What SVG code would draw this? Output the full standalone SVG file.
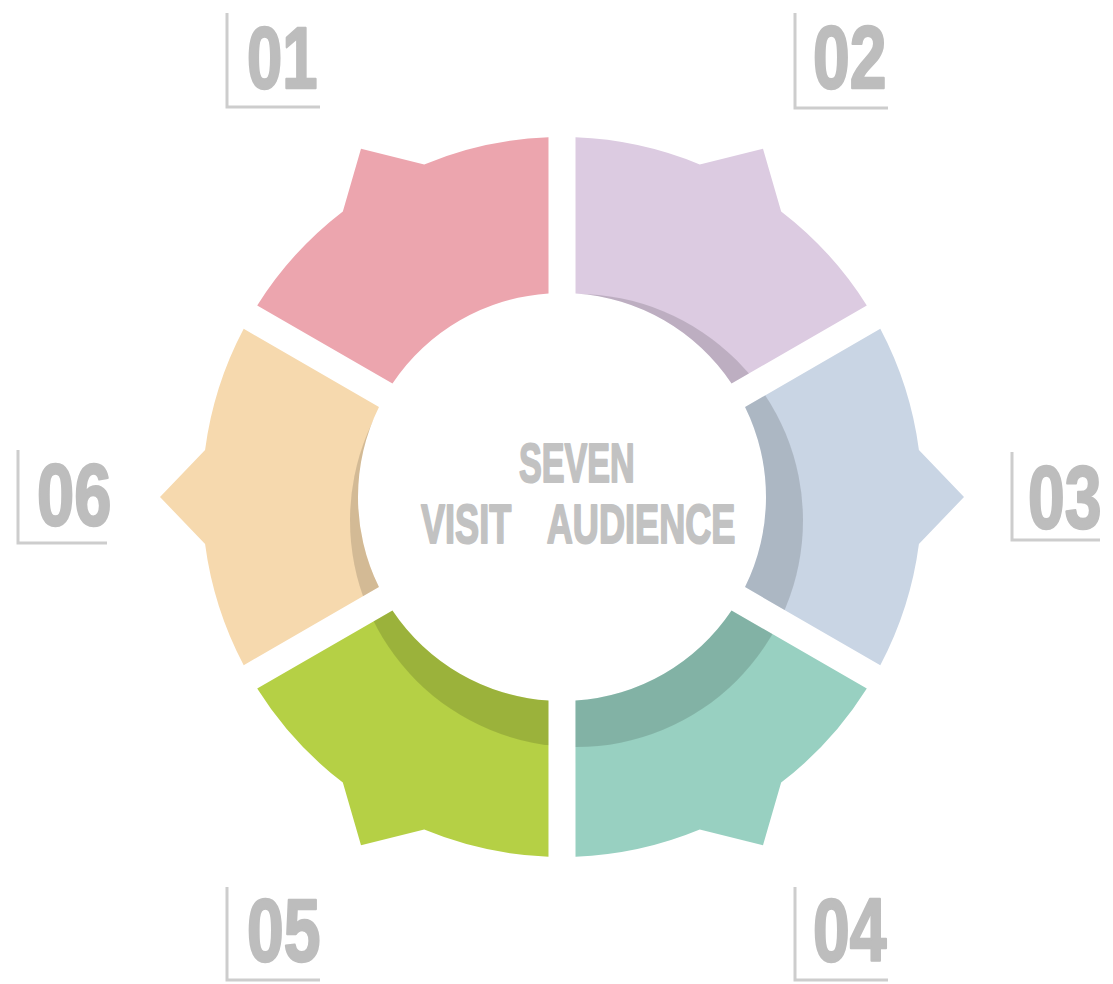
<svg xmlns="http://www.w3.org/2000/svg" xmlns:xlink="http://www.w3.org/1999/xlink" width="1113" height="984" viewBox="0 0 1113 984">
  <style>
    .lbl { font-family: "Liberation Sans", Arial, sans-serif; font-weight: bold; font-size: 88px; fill: #bdbdbd; stroke: #bdbdbd; stroke-width: 2.5; stroke-linejoin: round; }
    .ctr { font-family: "Liberation Sans", Arial, sans-serif; font-weight: bold; font-size: 56px; fill: #c2c2c2; stroke: #c2c2c2; stroke-width: 2; stroke-linejoin: round; }
    .brk { fill: none; stroke: #cdcdcd; stroke-width: 3; }
    .shd { fill: #000; fill-opacity: 0.14; }
  </style>
  <defs>
    <path id="segShape" d="M548.49 137.25 A360 360 0 0 0 424.23 164.40 L361 148.86 L342.85 211.39 A360 360 0 0 0 257.20 305.43 L392.48 383.51 A204 204 0 0 1 548.52 293.45 Z"/>
    <clipPath id="c01"><use xlink:href="#segShape"/></clipPath>
    <clipPath id="c02"><use xlink:href="#segShape" transform="rotate(60 562 497)"/></clipPath>
    <clipPath id="c03"><use xlink:href="#segShape" transform="rotate(120 562 497)"/></clipPath>
    <clipPath id="c04"><use xlink:href="#segShape" transform="rotate(180 562 497)"/></clipPath>
    <clipPath id="c05"><use xlink:href="#segShape" transform="rotate(240 562 497)"/></clipPath>
    <clipPath id="c06"><use xlink:href="#segShape" transform="rotate(300 562 497)"/></clipPath>
  </defs>
  <rect width="1113" height="984" fill="#ffffff"/>

  <g id="seg01">
    <use xlink:href="#segShape" fill="#eca5ae"/>
    <circle class="shd" cx="576.5" cy="520.5" r="226.5" clip-path="url(#c01)"/>
  </g>
  <g id="seg02">
    <use xlink:href="#segShape" transform="rotate(60 562 497)" fill="#dccbe1"/>
    <circle class="shd" cx="576.5" cy="520.5" r="226.5" clip-path="url(#c02)"/>
  </g>
  <g id="seg03">
    <use xlink:href="#segShape" transform="rotate(120 562 497)" fill="#c9d5e4"/>
    <circle class="shd" cx="576.5" cy="520.5" r="226.5" clip-path="url(#c03)"/>
  </g>
  <g id="seg04">
    <use xlink:href="#segShape" transform="rotate(180 562 497)" fill="#98d0c1"/>
    <circle class="shd" cx="576.5" cy="520.5" r="226.5" clip-path="url(#c04)"/>
  </g>
  <g id="seg05">
    <use xlink:href="#segShape" transform="rotate(240 562 497)" fill="#b5d045"/>
    <circle class="shd" cx="576.5" cy="520.5" r="226.5" clip-path="url(#c05)"/>
  </g>
  <g id="seg06">
    <use xlink:href="#segShape" transform="rotate(300 562 497)" fill="#f6d9ae"/>
    <circle class="shd" cx="576.5" cy="520.5" r="226.5" clip-path="url(#c06)"/>
  </g>

  <g id="center">
    <text class="ctr" transform="matrix(0.61 0 0 1 519 482)" x="0" y="0">SEVEN</text>
    <text class="ctr" transform="matrix(0.645 0 0 1 421 543)" y="0"><tspan x="0">VISIT</tspan> <tspan x="195">AUDIENCE</tspan></text>
  </g>

  <g id="label01">
    <path class="brk" d="M227 13 V107 H320"/>
    <text class="lbl" transform="matrix(0.72 0 0 1 247 88)">01</text>
  </g>
  <g id="label02">
    <path class="brk" d="M795 13 V108 H888"/>
    <text class="lbl" transform="matrix(0.75 0 0 1 813 88)">02</text>
  </g>
  <g id="label03">
    <path class="brk" d="M1012 452 V540 H1100"/>
    <text class="lbl" transform="matrix(0.75 0 0 1 1028 528)">03</text>
  </g>
  <g id="label04">
    <path class="brk" d="M795 887 V980 H888"/>
    <text class="lbl" transform="matrix(0.75 0 0 1 813 961)">04</text>
  </g>
  <g id="label05">
    <path class="brk" d="M227 887 V980 H320"/>
    <text class="lbl" transform="matrix(0.75 0 0 1 247 961)">05</text>
  </g>
  <g id="label06">
    <path class="brk" d="M18 450 V543 H107"/>
    <text class="lbl" transform="matrix(0.76 0 0 1 37 525)">06</text>
  </g>
</svg>
